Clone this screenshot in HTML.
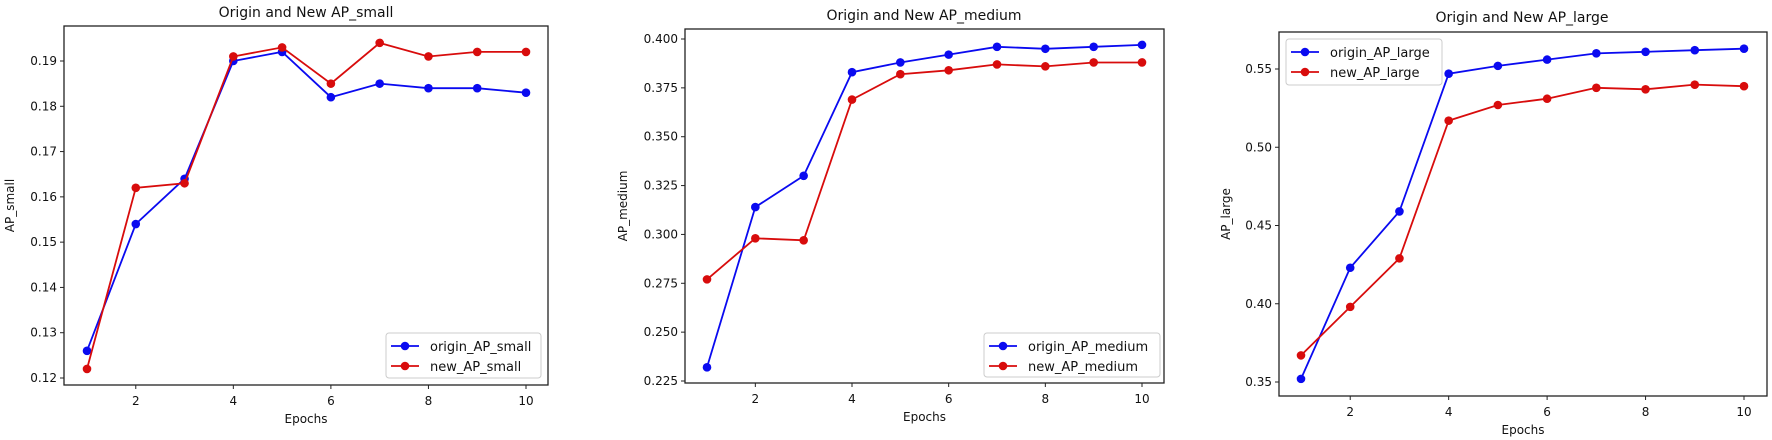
<!DOCTYPE html>
<html><head><meta charset="utf-8"><style>
html,body{margin:0;padding:0;background:#fff;width:1772px;height:440px;overflow:hidden}
svg{display:block}
text{font-family:"DejaVu Sans","Liberation Sans",sans-serif;fill:#111}
</style></head><body>
<svg id="s" width="1772" height="440" xmlns="http://www.w3.org/2000/svg"></svg>
<script>
const charts=[
{L:64,R:548,T:26,B:385,x1:87,x10:526,v1:0.19,p1:61,v2:0.12,p2:378,ticks:[0.12,0.13,0.14,0.15,0.16,0.17,0.18,0.19],dec:2,
 title:"Origin and New AP_small",tx:306,ty:17,yl:"AP_small",ylx:14,
 o:[.126,.154,.164,.190,.192,.182,.185,.184,.184,.183],n:[.122,.162,.163,.191,.193,.185,.194,.191,.192,.192],
 names:["origin_AP_small","new_AP_small"],leg:[386,333,155,45]},
{L:685,R:1164,T:29,B:383,x1:707,x10:1142,v1:0.4,p1:39,v2:0.225,p2:381,ticks:[0.225,0.25,0.275,0.3,0.325,0.35,0.375,0.4],dec:3,
 title:"Origin and New AP_medium",tx:924,ty:20,yl:"AP_medium",ylx:627,
 o:[.232,.314,.330,.383,.388,.392,.396,.395,.396,.397],n:[.277,.298,.297,.369,.382,.384,.387,.386,.388,.388],
 names:["origin_AP_medium","new_AP_medium"],leg:[984,333,176,44]},
{L:1279,R:1767,T:32,B:396,x1:1301,x10:1744,v1:0.55,p1:69,v2:0.35,p2:382,ticks:[0.35,0.4,0.45,0.5,0.55],dec:2,
 title:"Origin and New AP_large",tx:1522,ty:22,yl:"AP_large",ylx:1230,
 o:[.352,.423,.459,.547,.552,.556,.560,.561,.562,.563],n:[.367,.398,.429,.517,.527,.531,.538,.537,.540,.539],
 names:["origin_AP_large","new_AP_large"],leg:[1286,39,156,46]}
];
let h="";
const B="#0a0af0",Rd="#d80c0c";
for(const c of charts){
 const X=e=>c.x1+(e-1)*(c.x10-c.x1)/9;
 const Y=v=>c.p2+(v-c.v2)*(c.p1-c.p2)/(c.v1-c.v2);
 h+=`<rect x="${c.L}" y="${c.T}" width="${c.R-c.L}" height="${c.B-c.T}" fill="none" stroke="#222" stroke-width="1.3"/>`;
 for(const e of [2,4,6,8,10]){const x=X(e);h+=`<line x1="${x}" y1="${c.B}" x2="${x}" y2="${c.B+4}" stroke="#222"/><text x="${x}" y="${c.B+20}" font-size="12" text-anchor="middle">${e}</text>`;}
 for(const t of c.ticks){const y=Y(t);h+=`<line x1="${c.L-4}" y1="${y}" x2="${c.L}" y2="${y}" stroke="#222"/><text x="${c.L-7}" y="${y+4}" font-size="12" text-anchor="end">${t.toFixed(c.dec)}</text>`;}
 h+=`<text x="${c.tx}" y="${c.ty}" font-size="14" text-anchor="middle">${c.title}</text>`;
 h+=`<text x="${(c.L+c.R)/2}" y="${c.B+38}" font-size="12" text-anchor="middle">Epochs</text>`;
 h+=`<text transform="translate(${c.ylx},${(c.T+c.B)/2}) rotate(-90)" font-size="12" text-anchor="middle">${c.yl}</text>`;
 for(const [d,col] of [[c.o,B],[c.n,Rd]]){
  const pts=d.map((v,i)=>`${X(i+1).toFixed(1)},${Y(v).toFixed(1)}`).join(" ");
  h+=`<polyline points="${pts}" fill="none" stroke="${col}" stroke-width="1.8"/>`;
  d.forEach((v,i)=>{h+=`<circle cx="${X(i+1)}" cy="${Y(v)}" r="4.3" fill="${col}"/>`;});
 }
 const [lx,ly,lw,lh]=c.leg;
 h+=`<rect x="${lx}" y="${ly}" width="${lw}" height="${lh}" rx="3" fill="#fff" fill-opacity="0.85" stroke="#ccc"/>`;
 [[B,c.names[0],ly+13],[Rd,c.names[1],ly+33]].forEach(([col,n,y])=>{
  h+=`<line x1="${lx+5}" y1="${y}" x2="${lx+33}" y2="${y}" stroke="${col}" stroke-width="1.8"/><circle cx="${lx+19}" cy="${y}" r="4.3" fill="${col}"/><text x="${lx+44}" y="${y+5}" font-size="13">${n}</text>`;
 });
}
document.getElementById("s").innerHTML=h;
</script>
</body></html>
